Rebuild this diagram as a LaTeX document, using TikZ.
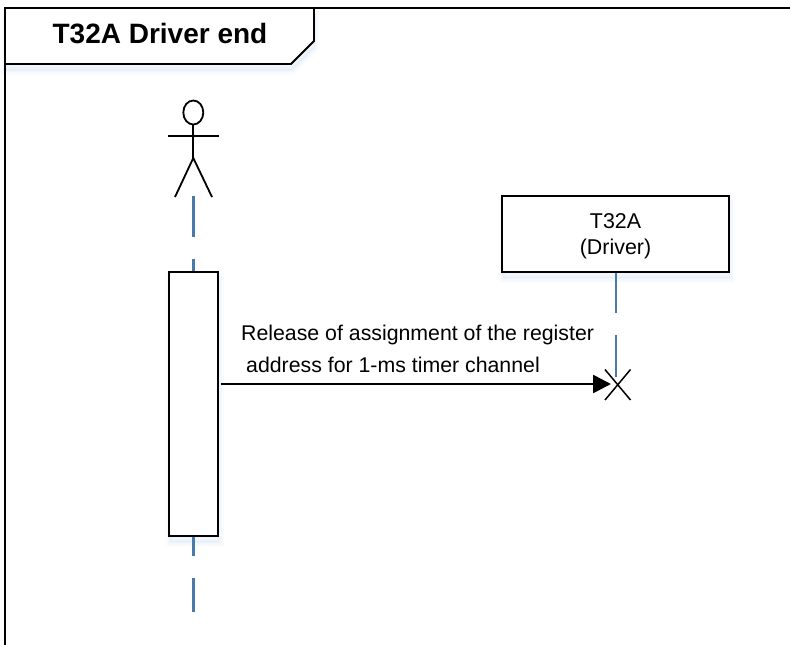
\documentclass[tikz,border=0pt]{standalone}
\usepackage{fontspec}
\setmainfont{Liberation Sans}
\usetikzlibrary{arrows.meta,shapes.geometric}
\definecolor{lifeblue}{RGB}{72,122,170}
\definecolor{glow}{RGB}{120,170,225}
\tikzset{
  x=1pt,y=-1pt,
  outline/.style={draw=black,line width=2pt,fill=white,line join=miter},
  thinblack/.style={draw=black,line width=1.8pt},
  lifeline/.style={draw=lifeblue,line width=2.6pt},
  msg/.style={font=\fontsize{21.3}{24}\selectfont,anchor=base west,inner sep=0pt},
  boxnode/.style={outline,rectangle,inner sep=0pt},
  boxtext/.style={inner sep=0pt,align=center,font=\fontsize{21.4}{26}\selectfont},
  glowa/.style={draw=glow,draw opacity=.03,line width=10pt,fill=glow,fill opacity=.03},
  glowb/.style={draw=glow,draw opacity=.04,line width=5pt,fill=glow,fill opacity=.03},
  glowc/.style={draw=glow,draw opacity=.05,line width=2pt,fill=none},
}
\newcommand{\softshadow}[1]{%
  \path[glowa] #1; \path[glowb] #1; \path[glowc] #1;}
\begin{document}
\begin{tikzpicture}
\useasboundingbox[fill=white] (0,0) rectangle (790,645);
% shadows
\begin{scope}[shift={(1,6)}]
  \softshadow{(5,8) -- (314,8) -- (314,41) -- (291,64) -- (5,64) -- cycle}
  \softshadow{(502,196) rectangle (729,272)}
  \softshadow{(169,272) rectangle (218,536)}
\end{scope}
\fill[white] (5,8) -- (314,8) -- (314,41) -- (291,64) -- (5,64) -- cycle;
% frame
\coordinate (frameTL) at (5,8);
\coordinate (frameTR) at (790,8);
\coordinate (frameBL) at (5,645);
\draw[thinblack] (frameTR) -- (frameTL) -- (frameBL);
% title
\draw[outline,line width=1.8pt] (5,8) -- (314,8) -- (314,41) -- (291,64) -- (5,64) -- cycle;
\node[font=\bfseries\fontsize{28}{30}\selectfont,inner sep=0pt,anchor=base] (title) at (160,43) {T32A Driver end};
% actor
\node[draw=black,line width=1.8pt,ellipse,minimum width=20pt,minimum height=24pt,inner sep=0pt,fill=white] (head) at (193.3,112.5) {};
\coordinate (armL) at (168,136);
\coordinate (armR) at (218.5,136);
\coordinate (hip) at (193.3,158);
\coordinate (legL) at (175,197);
\coordinate (legR) at (212,197);
\draw[thinblack] (armL) -- (armR);
\draw[thinblack] (head.south) -- (hip);
\draw[thinblack] (legL) -- (hip) -- (legR);
% activation box
\node[boxnode,minimum width=49pt,minimum height=264pt] (act) at (193.5,404) {};
% driver box
\node[boxnode,minimum width=227pt,minimum height=76pt] (drv) at (615.5,234) {};
\node[boxtext] (drvtext) at (615.5,236) {T32A\\[-0.5pt](Driver)};
% destruction mark
\coordinate (x1) at (605,369.5);
\coordinate (x2) at (630.5,400);
\coordinate (x3) at (630.5,369.5);
\coordinate (x4) at (605,400);
% lifelines
\coordinate (a1) at (193.3,196);
\coordinate (a2) at (193.3,237);
\coordinate (a3) at (193.3,259);
\coordinate (a4) at (193.3,556);
\coordinate (a5) at (193.3,578);
\coordinate (a6) at (193.3,612);
\coordinate (d1) at (615.8,312.5);
\coordinate (d2) at (615.8,335);
\coordinate (d3) at (615.8,377);
\draw[lifeline] (a1) -- (a2);
\draw[lifeline] (a3) -- (act.north -| a3);
\draw[lifeline] (act.south -| a4) -- (a4);
\draw[lifeline] (a5) -- (a6);
\draw[lifeline] (drv.south -| d1) -- (d1);
\draw[lifeline] (d2) -- (d3);
\draw[draw=black,line width=1.5pt] (x1) -- (x2) (x3) -- (x4);
% message
\coordinate (msgS) at (220.5,384);
\coordinate (msgE) at (611,384);
\draw[draw=black,line width=2.6pt,-{Triangle[length=18pt,width=18pt]}] (msgS) -- (msgE);
\node[msg] (l1) at (241,340) {Release of assignment of the register};
\node[msg] (l2) at (246,372) {address for 1-ms timer channel};
\end{tikzpicture}
\end{document}
